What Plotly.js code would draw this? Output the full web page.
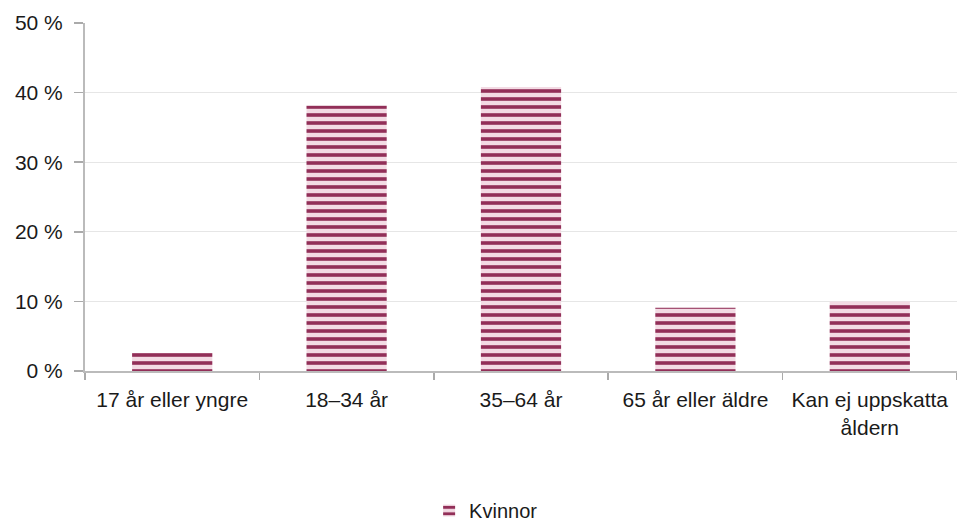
<!DOCTYPE html>
<html>
<head>
<meta charset="utf-8">
<script src="https://cdn.plot.ly/plotly-3.0.1.min.js"></script>
<style>html,body{margin:0;padding:0;background:#fff;}#chart{width:957px;height:525px;}</style>
</head>
<body>
<div id="chart"></div>
<script>
const categories = ["17 år eller yngre", "18–34 år", "35–64 år", "65 år eller äldre", "Kan ej uppskatta<br>åldern"];
const kvinnor = [2.6, 38.1, 40.8, 9.1, 10.0];
const yTicks = [0, 10, 20, 30, 40, 50];

const trace = {
  type: 'bar',
  name: 'Kvinnor',
  x: categories,
  y: kvinnor,
  width: 0.46,
  marker: {
    color: '#f3dbe4',
    line: {width: 0},
    pattern: {shape: '-', fgcolor: '#922f58', bgcolor: '#f3dbe4', size: 8, solidity: 0.45, fillmode: 'replace'}
  },
  hoverinfo: 'none'
};

const layout = {
  width: 957, height: 525,
  margin: {l: 85, r: 0, t: 23, b: 154, autoexpand: false},
  paper_bgcolor: '#fff', plot_bgcolor: '#fff',
  font: {family: 'Liberation Sans, Arial, sans-serif', size: 21, color: '#1a1a1a'},
  showlegend: true,
  legend: {orientation: 'h', x: 0.46, xanchor: 'center', y: -0.345, yanchor: 'top', font: {size: 20}, itemwidth: 30},
  xaxis: {
    type: 'category',
    tickson: 'boundaries',
    ticks: 'outside', ticklen: 7, tickcolor: '#aaa', tickwidth: 1.5,
    showline: true, linecolor: '#bbb', linewidth: 2,
    showgrid: false,
    automargin: false,
    ticklabelstandoff: 9,
    tickfont: {size: 21}
  },
  yaxis: {
    range: [0, 50],
    tickvals: yTicks,
    ticktext: yTicks.map(v => v + '\u00a0%'),
    ticks: 'outside', ticklen: 9, tickcolor: '#aaa', tickwidth: 1.5,
    showline: true, linecolor: '#bbb', linewidth: 2,
    gridcolor: '#e6e6e6', gridwidth: 1,
    zeroline: false,
    automargin: false,
    ticklabelstandoff: 7,
    tickfont: {size: 21}
  }
};

Plotly.newPlot('chart', [trace], layout, {displayModeBar: false, staticPlot: true});
</script>
</body>
</html>
